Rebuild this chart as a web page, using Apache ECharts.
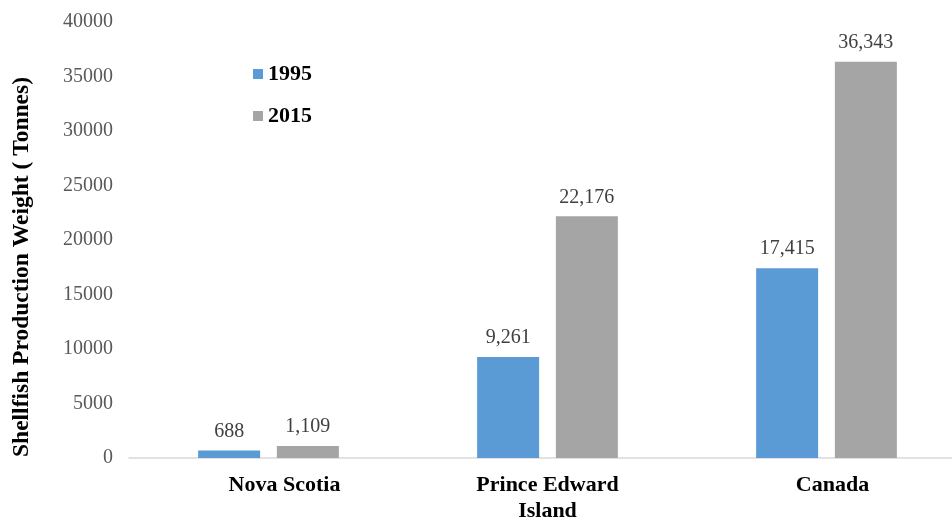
<!DOCTYPE html>
<html>
<head>
<meta charset="utf-8">
<script src="https://cdn.jsdelivr.net/npm/echarts@6/dist/echarts.min.js"></script>
<style>
  html, body { margin: 0; padding: 0; background: #fff; }
  #chart { width: 952px; height: 520px; }
</style>
</head>
<body>
<div id="chart"></div>
<script>
// Shellfish production weight by region, 1995 vs 2015
const regions = ['Nova Scotia', 'Prince Edward\nIsland', 'Canada'];
const values1995 = [688, 9261, 17415];
const values2015 = [1109, 22176, 36343];
const yTicks = { min: 0, max: 40000, interval: 5000 };

const serif = '"Liberation Serif", "Times New Roman", serif';

const chart = echarts.init(document.getElementById('chart'));

const labelStyle = {
  show: true,
  position: 'top',
  distance: 9,
  fontFamily: serif,
  fontSize: 20,
  color: '#404040',
  formatter: p => p.value.toLocaleString('en-US')
};

const catFont = { fontFamily: serif, fontSize: 22, fontWeight: 'bold', color: '#000', lineHeight: 26 };

chart.setOption({
  animation: false,
  textStyle: { fontFamily: serif },
  grid: { left: 129, width: 837, top: 22, bottom: 62, containLabel: false, outerBoundsMode: 'none' },
  legend: {
    orient: 'vertical',
    left: 248,
    top: 58,
    itemWidth: 10,
    itemHeight: 10,
    itemGap: 20,
    icon: 'rect',
    textStyle: { fontFamily: serif, fontSize: 22, fontWeight: 'bold', color: '#000' },
    data: ['1995', '2015']
  },
  xAxis: {
    type: 'category',
    data: regions,
    axisLine: { lineStyle: { color: '#d9d9d9', width: 1.5 } },
    axisTick: { show: false },
    axisLabel: {
      ...catFont,
      margin: 14,
      formatter: v => {
        if (v === 'Nova Scotia') return '{ns|' + v + '}';
        if (v === 'Canada') return '{ca|' + v + '}';
        return v;
      },
      rich: {
        ns: { ...catFont, padding: [0, 0, 0, 32] },
        ca: { ...catFont, padding: [0, 0, 0, 12] }
      }
    }
  },
  yAxis: {
    type: 'value',
    min: yTicks.min,
    max: yTicks.max,
    interval: yTicks.interval,
    name: 'Shellfish Production Weight ( Tonnes)',
    nameLocation: 'middle',
    nameGap: 95,
    nameRotate: 90,
    nameTextStyle: {
      fontFamily: serif, fontSize: 23.5, fontWeight: 'bold', color: '#000',
      padding: [0, 54, 0, 0]
    },
    axisLine: { show: false },
    axisTick: { show: false },
    splitLine: { show: false },
    axisLabel: { fontFamily: serif, fontSize: 20, color: '#595959', margin: 16, formatter: v => String(v) }
  },
  series: [
    {
      name: '1995',
      type: 'bar',
      data: values1995,
      barWidth: 62,
      barGap: '27%',
      itemStyle: { color: '#5b9bd5' },
      label: labelStyle
    },
    {
      name: '2015',
      type: 'bar',
      data: values2015,
      barWidth: 62,
      itemStyle: { color: '#a5a5a5' },
      label: labelStyle
    }
  ]
});
</script>
</body>
</html>
